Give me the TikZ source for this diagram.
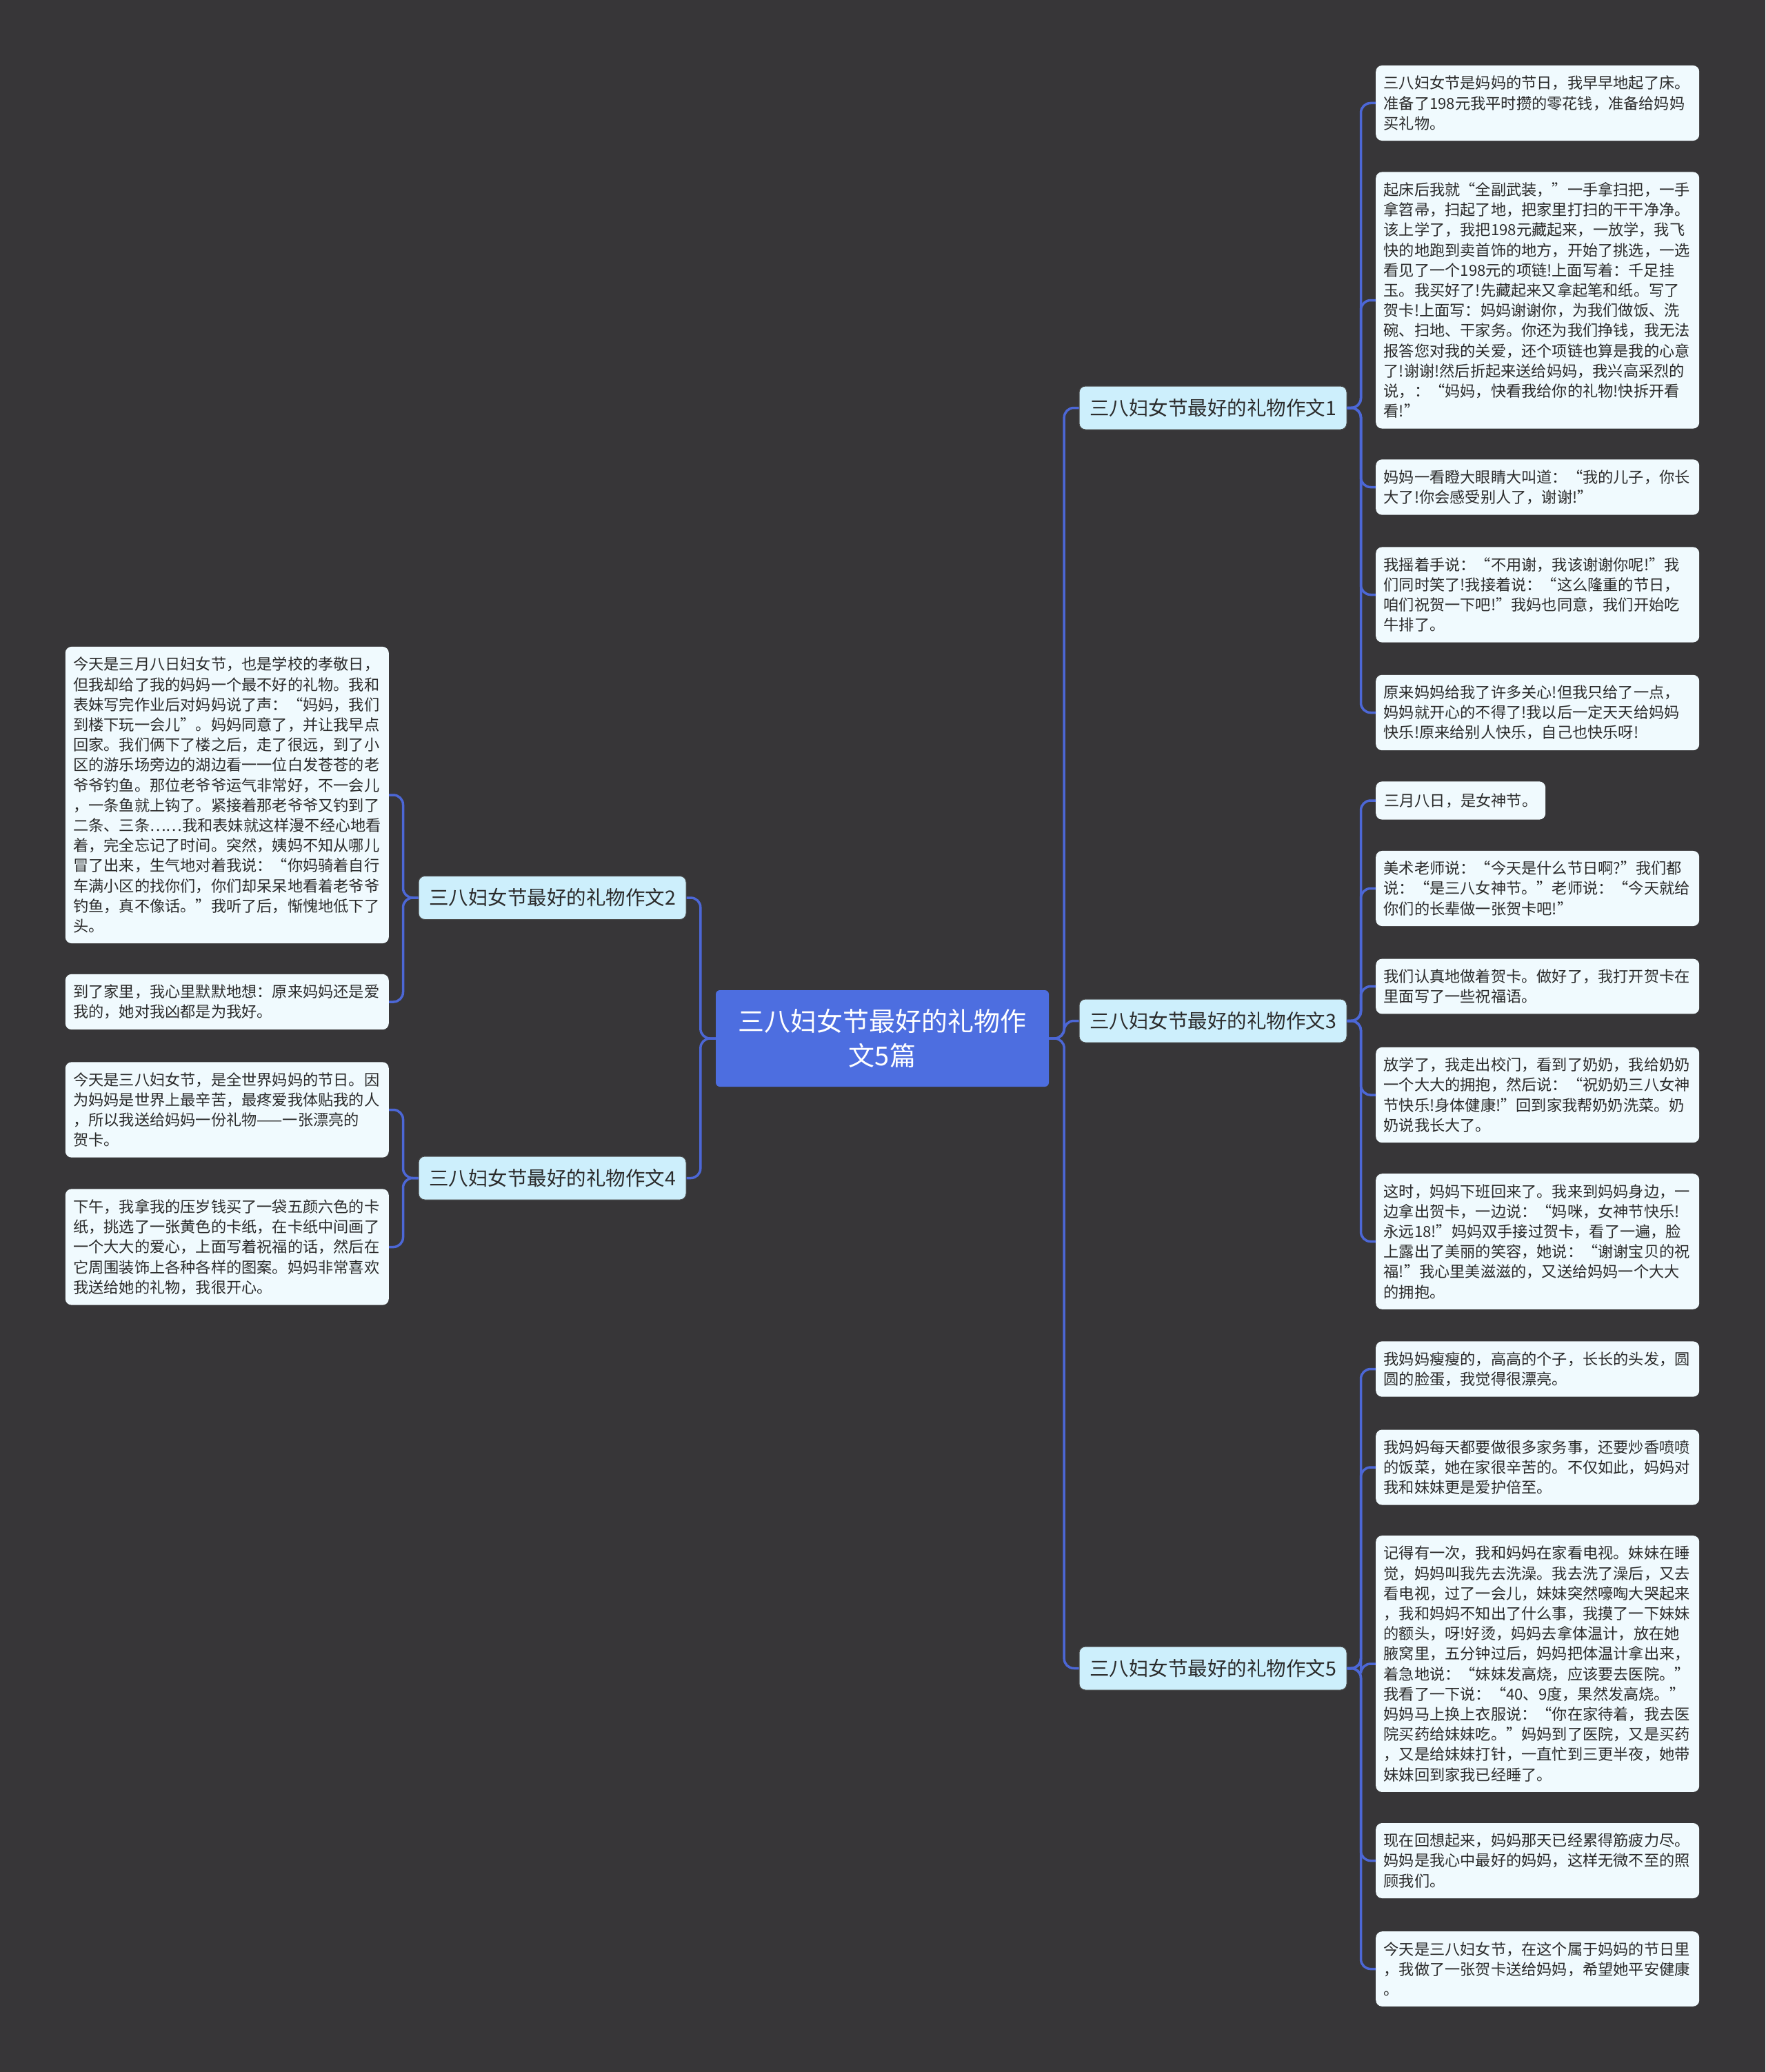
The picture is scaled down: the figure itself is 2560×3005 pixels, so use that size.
\documentclass[tikz,border=0pt]{standalone}
\usepackage{fontspec}
\newfontfamily\cjk{Noto Sans CJK SC}
\definecolor{bgc}{HTML}{373638}
\definecolor{linec}{HTML}{4C67D6}
\definecolor{rootc}{HTML}{4D6EE0}
\definecolor{branchc}{HTML}{CDEFFC}
\definecolor{leafc}{HTML}{F0FAFE}
\definecolor{txtc}{HTML}{2B2B2B}
\tikzset{
  rootbox/.style={rectangle, rounded corners=6pt, fill=rootc, text=white, align=center,
    minimum width=483pt, minimum height=140pt, inner sep=0pt,
    font=\cjk\fontsize{38}{50}\selectfont},
  branchbox/.style={rectangle, rounded corners=9pt, fill=branchc, draw=black!70, line width=1pt,
    text=txtc, minimum width=388pt, minimum height=63pt, inner sep=0pt,
    font=\cjk\fontsize{28.5}{34}\selectfont},
  leafbox/.style={rectangle, rounded corners=9pt, fill=leafc, text=txtc, align=left,
    text width=446pt, inner xsep=11.5pt, inner ysep=15pt,
    font=\cjk\fontsize{22.2}{29.2}\selectfont},
  shortleaf/.style={rectangle, rounded corners=9pt, fill=leafc, text=txtc, align=left,
    inner xsep=12pt, inner ysep=17pt,
    font=\cjk\fontsize{22.2}{29.2}\selectfont},
  conn/.style={draw=linec, line width=3.5pt, rounded corners=14pt}
}
\begin{document}
\begin{tikzpicture}[x=1pt,y=-1pt]
\fill[bgc] (0,0) rectangle (2560,3005);
\useasboundingbox (0,0) rectangle (2560,3005);

% root
\node[rootbox] (root) at (1279.5,1506) {三八妇女节最好的礼物作\\文5篇};

% branches
\node[branchbox] (b1) at (1759,591.5) {三八妇女节最好的礼物作文1};
\node[branchbox] (b2) at (801,1302) {三八妇女节最好的礼物作文2};
\node[branchbox] (b3) at (1759,1480.5) {三八妇女节最好的礼物作文3};
\node[branchbox] (b4) at (801,1708.5) {三八妇女节最好的礼物作文4};
\node[branchbox] (b5) at (1759,2419.5) {三八妇女节最好的礼物作文5};

% leaves of b1
\node[leafbox, anchor=west] (l11) at (1995,149.5) {三八妇女节是妈妈的节日，我早早地起了床。\\准备了198元我平时攒的零花钱，准备给妈妈\\买礼物。};
\node[leafbox, anchor=west] (l12) at (1995,435.5) {起床后我就“全副武装，”一手拿扫把，一手\\拿笤帚，扫起了地，把家里打扫的干干净净。\\该上学了，我把198元藏起来，一放学，我飞\\快的地跑到卖首饰的地方，开始了挑选，一选\\看见了一个198元的项链!上面写着：千足挂\\玉。我买好了!先藏起来又拿起笔和纸。写了\\贺卡!上面写：妈妈谢谢你，为我们做饭、洗\\碗、扫地、干家务。你还为我们挣钱，我无法\\报答您对我的关爱，还个项链也算是我的心意\\了!谢谢!然后折起来送给妈妈，我兴高采烈的\\说，：“妈妈，快看我给你的礼物!快拆开看\\看!”};
\node[leafbox, anchor=west] (l13) at (1995,706.5) {妈妈一看瞪大眼睛大叫道：“我的儿子，你长\\大了!你会感受别人了，谢谢!”};
\node[leafbox, anchor=west] (l14) at (1995,862.5) {我摇着手说：“不用谢，我该谢谢你呢!”我\\们同时笑了!我接着说：“这么隆重的节日，\\咱们祝贺一下吧!”我妈也同意，我们开始吃\\牛排了。};
\node[leafbox, anchor=west] (l15) at (1995,1033.5) {原来妈妈给我了许多关心!但我只给了一点，\\妈妈就开心的不得了!我以后一定天天给妈妈\\快乐!原来给别人快乐，自己也快乐呀!};

% leaves of b3
\node[shortleaf, anchor=west] (l31) at (1995,1161) {三月八日，是女神节。};
\node[leafbox, anchor=west] (l32) at (1995,1288.5) {美术老师说：“今天是什么节日啊?”我们都\\说：“是三八女神节。”老师说：“今天就给\\你们的长辈做一张贺卡吧!”};
\node[leafbox, anchor=west] (l33) at (1995,1430.5) {我们认真地做着贺卡。做好了，我打开贺卡在\\里面写了一些祝福语。};
\node[leafbox, anchor=west] (l34) at (1995,1588) {放学了，我走出校门，看到了奶奶，我给奶奶\\一个大大的拥抱，然后说：“祝奶奶三八女神\\节快乐!身体健康!”回到家我帮奶奶洗菜。奶\\奶说我长大了。};
\node[leafbox, anchor=west] (l35) at (1995,1800.5) {这时，妈妈下班回来了。我来到妈妈身边，一\\边拿出贺卡，一边说：“妈咪，女神节快乐!\\永远18!”妈妈双手接过贺卡，看了一遍，脸\\上露出了美丽的笑容，她说：“谢谢宝贝的祝\\福!”我心里美滋滋的，又送给妈妈一个大大\\的拥抱。};

% leaves of b5
\node[leafbox, anchor=west] (l51) at (1995,1985.5) {我妈妈瘦瘦的，高高的个子，长长的头发，圆\\圆的脸蛋，我觉得很漂亮。};
\node[leafbox, anchor=west] (l52) at (1995,2128) {我妈妈每天都要做很多家务事，还要炒香喷喷\\的饭菜，她在家很辛苦的。不仅如此，妈妈对\\我和妹妹更是爱护倍至。};
\node[leafbox, anchor=west] (l53) at (1995,2413) {记得有一次，我和妈妈在家看电视。妹妹在睡\\觉，妈妈叫我先去洗澡。我去洗了澡后，又去\\看电视，过了一会儿，妹妹突然嚎啕大哭起来\\，我和妈妈不知出了什么事，我摸了一下妹妹\\的额头，呀!好烫，妈妈去拿体温计，放在她\\腋窝里，五分钟过后，妈妈把体温计拿出来，\\着急地说：“妹妹发高烧，应该要去医院。”\\我看了一下说：“40、9度，果然发高烧。”\\妈妈马上换上衣服说：“你在家待着，我去医\\院买药给妹妹吃。”妈妈到了医院，又是买药\\，又是给妹妹打针，一直忙到三更半夜，她带\\妹妹回到家我已经睡了。};
\node[leafbox, anchor=west] (l54) at (1995,2698.5) {现在回想起来，妈妈那天已经累得筋疲力尽。\\妈妈是我心中最好的妈妈，这样无微不至的照\\顾我们。};
\node[leafbox, anchor=west] (l55) at (1995,2855.5) {今天是三八妇女节，在这个属于妈妈的节日里\\，我做了一张贺卡送给妈妈，希望她平安健康\\。};

% leaves of b2
\node[leafbox, anchor=east] (l21) at (564,1153) {今天是三月八日妇女节，也是学校的孝敬日，\\但我却给了我的妈妈一个最不好的礼物。我和\\表妹写完作业后对妈妈说了声：“妈妈，我们\\到楼下玩一会儿”。妈妈同意了，并让我早点\\回家。我们俩下了楼之后，走了很远，到了小\\区的游乐场旁边的湖边看一一位白发苍苍的老\\爷爷钓鱼。那位老爷爷运气非常好，不一会儿\\，一条鱼就上钩了。紧接着那老爷爷又钓到了\\二条、三条……我和表妹就这样漫不经心地看\\着，完全忘记了时间。突然，姨妈不知从哪儿\\冒了出来，生气地对着我说：“你妈骑着自行\\车满小区的找你们，你们却呆呆地看着老爷爷\\钓鱼，真不像话。”我听了后，惭愧地低下了\\头。};
\node[leafbox, anchor=east] (l22) at (564,1453) {到了家里，我心里默默地想：原来妈妈还是爱\\我的，她对我凶都是为我好。};

% leaves of b4
\node[leafbox, anchor=east] (l41) at (564,1609.5) {今天是三八妇女节，是全世界妈妈的节日。因\\为妈妈是世界上最辛苦，最疼爱我体贴我的人\\，所以我送给妈妈一份礼物——一张漂亮的\\贺卡。};
\node[leafbox, anchor=east] (l42) at (564,1808.5) {下午，我拿我的压岁钱买了一袋五颜六色的卡\\纸，挑选了一张黄色的卡纸，在卡纸中间画了\\一个大大的爱心，上面写着祝福的话，然后在\\它周围装饰上各种各样的图案。妈妈非常喜欢\\我送给她的礼物，我很开心。};

% connectors root -> branches
\foreach \b in {b1,b3,b5} { \draw[conn] (root.east) -- ++(22,0) |- (\b.west); }
\foreach \b in {b2,b4} { \draw[conn] (root.west) -- ++(-22,0) |- (\b.east); }

% branch -> leaves
\foreach \l in {l11,l12,l13,l14,l15} { \draw[conn] (b1.east) -- ++(20,0) |- (\l.west); }
\foreach \l in {l31,l32,l33,l34,l35} { \draw[conn] (b3.east) -- ++(20,0) |- (\l.west); }
\foreach \l in {l51,l52,l53,l54,l55} { \draw[conn] (b5.east) -- ++(20,0) |- (\l.west); }
\foreach \l in {l21,l22} { \draw[conn] (b2.west) -- ++(-22,0) |- (\l.east); }
\foreach \l in {l41,l42} { \draw[conn] (b4.west) -- ++(-22,0) |- (\l.east); }
\end{tikzpicture}
\end{document}
